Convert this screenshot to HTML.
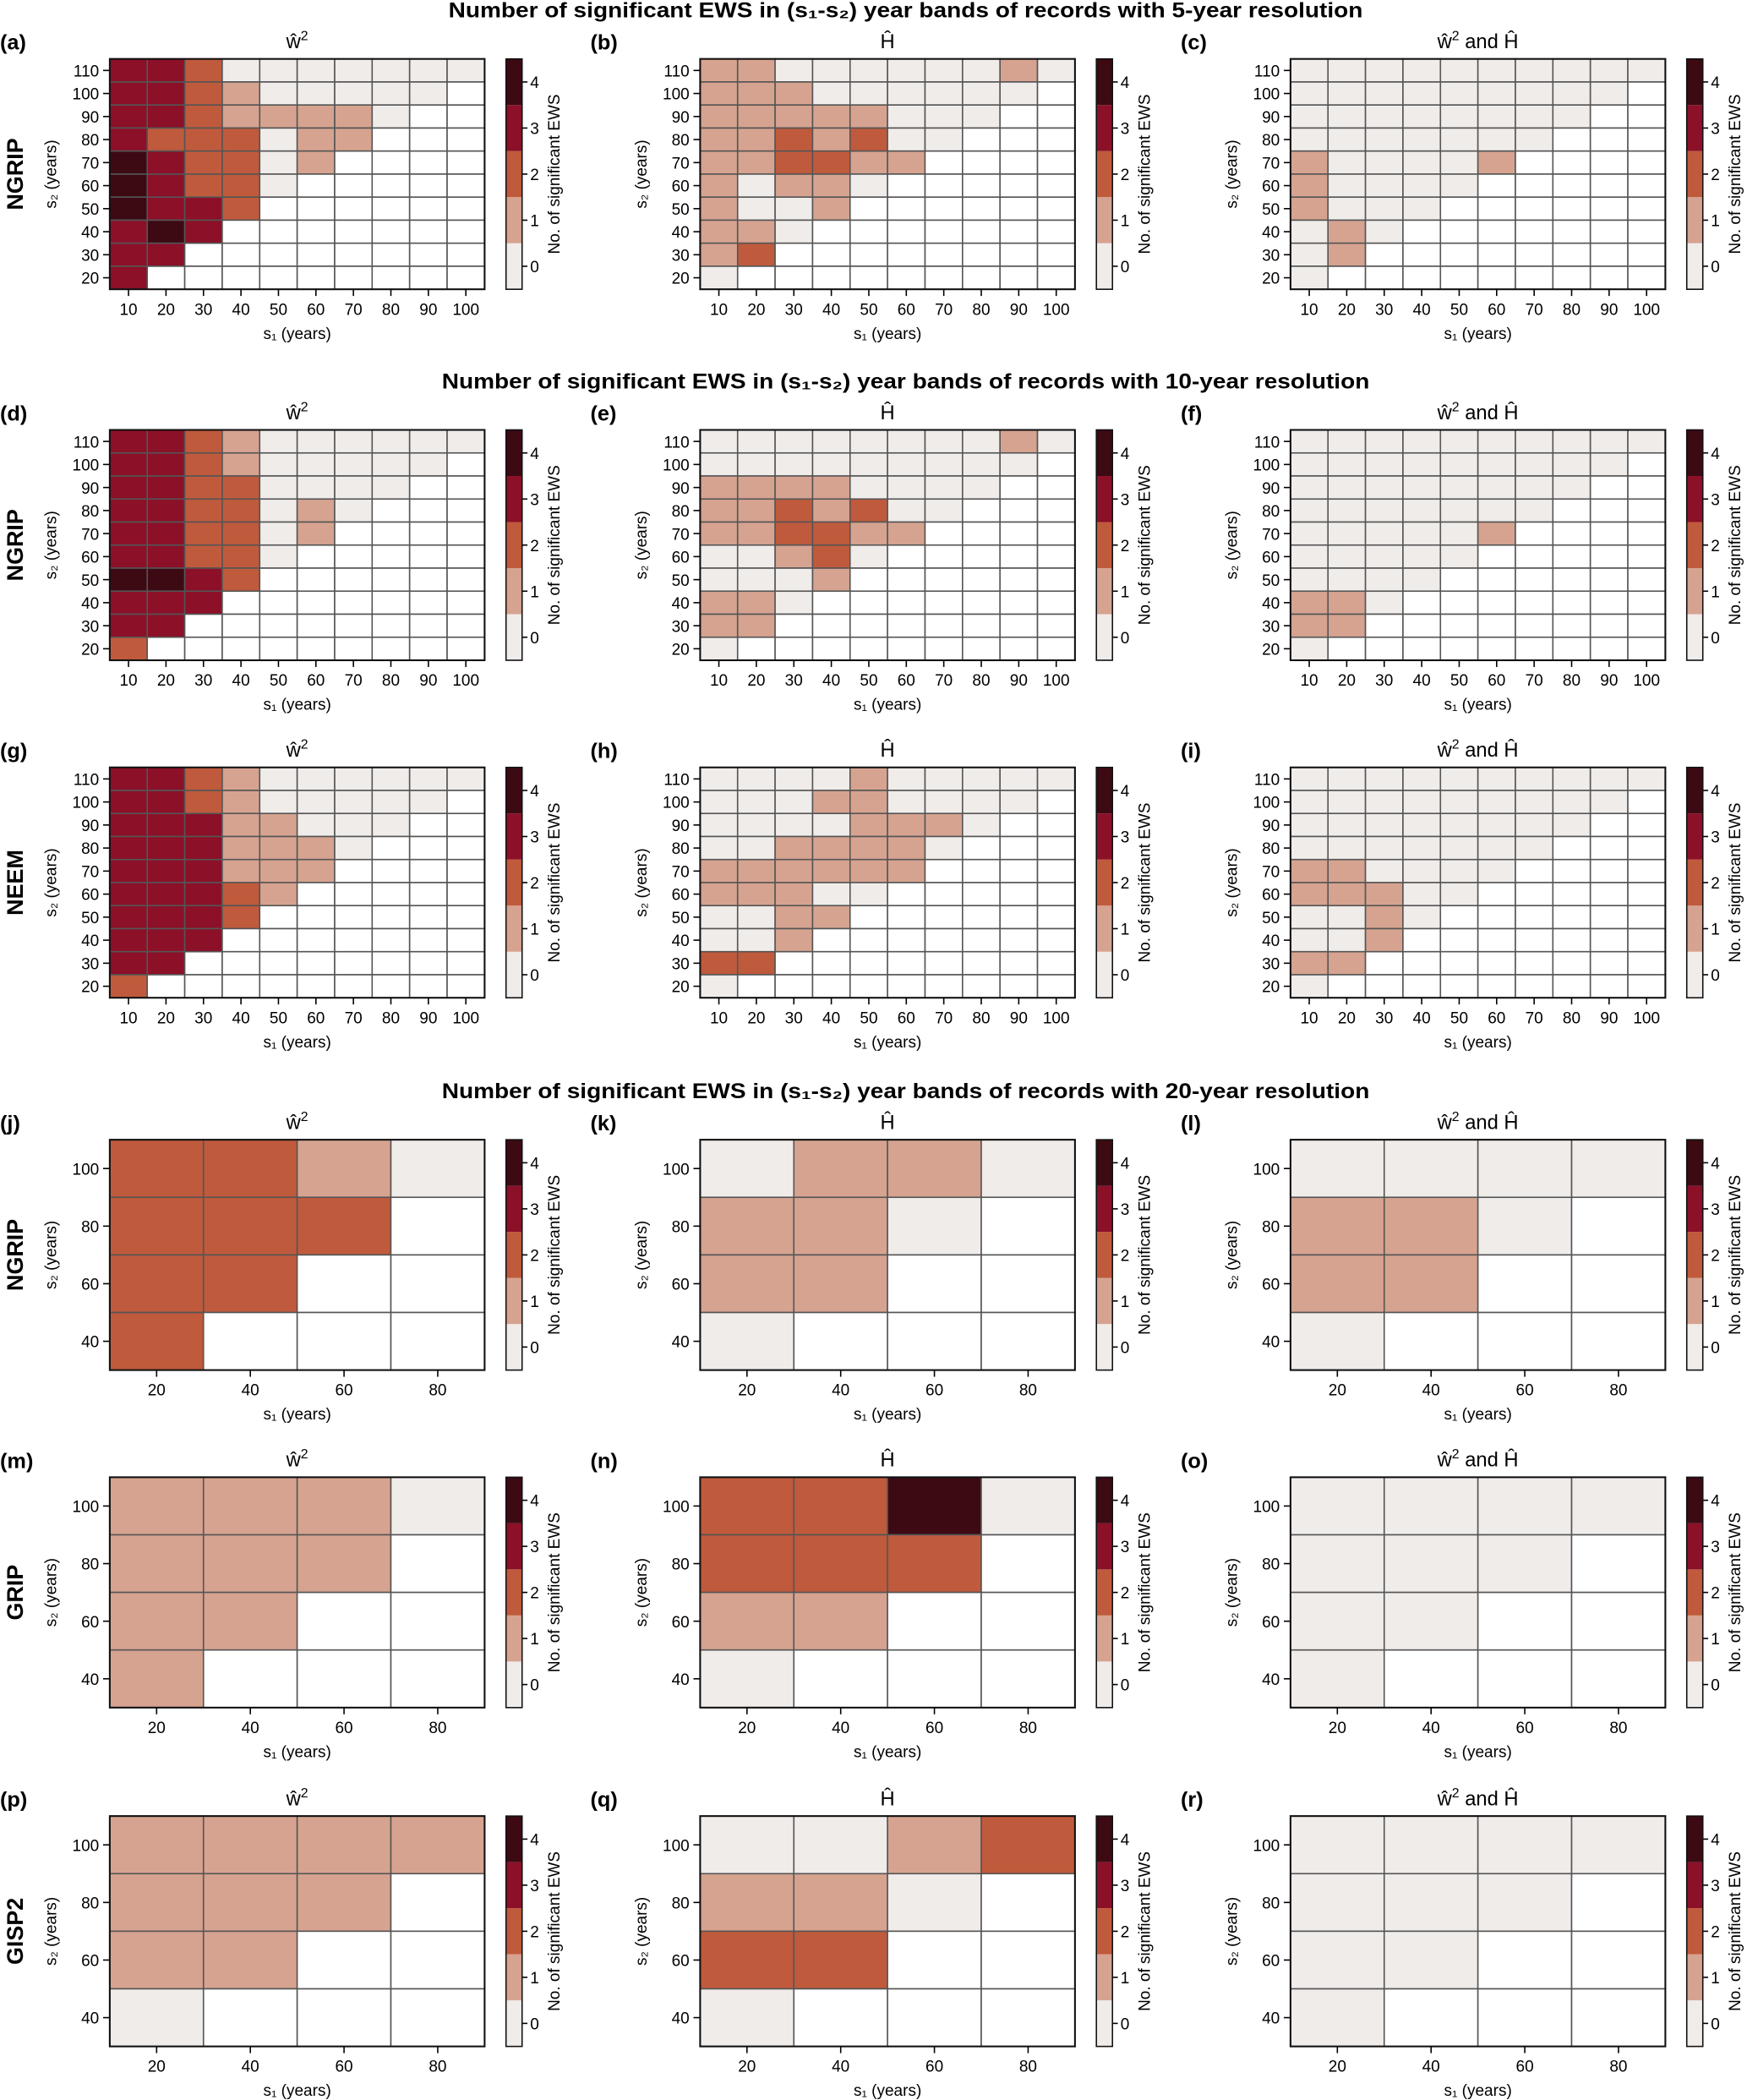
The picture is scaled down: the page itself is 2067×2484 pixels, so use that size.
<!DOCTYPE html>
<html><head><meta charset="utf-8"><style>
html,body{margin:0;padding:0;background:#fff}
svg{display:block}
text{font-family:"Liberation Sans",sans-serif;fill:#000}
</style></head><body>
<svg id="fig" xmlns="http://www.w3.org/2000/svg" width="2067" height="2484" viewBox="0 0 1305 1568" preserveAspectRatio="none"></svg>
<script>
// ---- data (rows listed top to bottom: largest s2 first; -1 = no value) ----
const s1Fine = [10,20,30,40,50,60,70,80,90,100];
const s2Fine = [110,100,90,80,70,60,50,40,30,20];
const s1Coarse = [20,40,60,80];
const s2Coarse = [100,80,60,40];
const cbTicks = [0,1,2,3,4];
const colors = ['#f0ecea','#d6a390','#c05a3c','#8b1028','#3d0a14'];

const valsA = [[3,3,2,0,0,0,0,0,0,0],[3,3,2,1,0,0,0,0,0],[3,3,2,1,1,1,1,0],[3,2,2,2,0,1,1],[4,3,2,2,0,1],[4,3,2,2,0],[4,3,3,2],[3,4,3],[3,3],[3]];
const valsB = [[1,1,0,0,0,0,0,0,1,0],[1,1,1,0,0,0,0,0,0],[1,1,1,1,1,0,0,0],[1,1,2,1,2,0,0],[1,1,2,2,1,1],[1,0,1,1,0],[1,0,0,1],[1,1,0],[1,2],[0]];
const valsC = [[0,0,0,0,0,0,0,0,0,0],[0,0,0,0,0,0,0,0,0],[0,0,0,0,0,0,0,0],[0,0,0,0,0,0,0],[1,0,0,0,0,1],[1,0,0,0,0],[1,0,0,0],[0,1,0],[0,1],[0]];
const valsD = [[3,3,2,1,0,0,0,0,0,0],[3,3,2,1,0,0,0,0,0],[3,3,2,2,0,0,0,0],[3,3,2,2,0,1,0],[3,3,2,2,0,1],[3,3,2,2,0],[4,4,3,2],[3,3,3],[3,3],[2]];
const valsE = [[0,0,0,0,0,0,0,0,1,0],[0,0,0,0,0,0,0,0,0],[1,1,1,1,0,0,0,0],[1,1,2,1,2,0,0],[1,1,2,2,1,1],[0,0,1,2,0],[0,0,0,1],[1,1,0],[1,1],[0]];
const valsF = [[0,0,0,0,0,0,0,0,0,0],[0,0,0,0,0,0,0,0,0],[0,0,0,0,0,0,0,0],[0,0,0,0,0,0,0],[0,0,0,0,0,1],[0,0,0,0,0],[0,0,0,0],[1,1,0],[1,1],[0]];
const valsG = [[3,3,2,1,0,0,0,0,0,0],[3,3,2,1,0,0,0,0,0],[3,3,3,1,1,0,0,0],[3,3,3,1,1,1,0],[3,3,3,1,1,1],[3,3,3,2,1],[3,3,3,2],[3,3,3],[3,3],[2]];
const valsH = [[0,0,0,0,1,0,0,0,0,0],[0,0,0,1,1,0,0,0,0],[0,0,0,0,1,1,1,0],[0,0,1,1,1,1,0],[1,1,1,1,1,1],[1,1,1,0,0],[0,0,1,1],[0,0,1],[2,2],[0]];
const valsI = [[0,0,0,0,0,0,0,0,0,0],[0,0,0,0,0,0,0,0,0],[0,0,0,0,0,0,0,0],[0,0,0,0,0,0,0],[1,1,0,0,0,0],[1,1,1,0,0],[0,0,1,0],[0,0,1],[1,1],[0]];
const valsJ = [[2,2,1,0],[2,2,2],[2,2],[2]];
const valsK = [[0,1,1,0],[1,1,0],[1,1],[0]];
const valsL = [[0,0,0,0],[1,1,0],[1,1],[0]];
const valsM = [[1,1,1,0],[1,1,1],[1,1],[1]];
const valsN = [[2,2,4,0],[2,2,2],[1,1],[0]];
const valsO = [[0,0,0,0],[0,0,0],[0,0],[0]];
const valsP = [[1,1,1,1],[1,1,1],[1,1],[0]];
const valsQ = [[0,0,1,2],[1,1,0],[2,2],[0]];
const valsR = [[0,0,0,0],[0,0,0],[0,0],[0]];

const sectionTitles = [
 {t:'Number of significant EWS in (s\u2081-s\u2082) year bands of records with 5-year resolution', y:13, x:335, w:683},
 {t:'Number of significant EWS in (s\u2081-s\u2082) year bands of records with 10-year resolution', y:290, x:330, w:693},
 {t:'Number of significant EWS in (s\u2081-s\u2082) year bands of records with 20-year resolution', y:820, x:330, w:693}
];
const rowDefs = [
 {y0:44, fine:true, rec:'NGRIP', ids:['a','b','c'], vals:[valsA,valsB,valsC]},
 {y0:321, fine:true, rec:'NGRIP', ids:['d','e','f'], vals:[valsD,valsE,valsF]},
 {y0:573, fine:true, rec:'NEEM', ids:['g','h','i'], vals:[valsG,valsH,valsI]},
 {y0:851, fine:false, rec:'NGRIP', ids:['j','k','l'], vals:[valsJ,valsK,valsL]},
 {y0:1103, fine:false, rec:'GRIP', ids:['m','n','o'], vals:[valsM,valsN,valsO]},
 {y0:1356, fine:false, rec:'GISP2', ids:['p','q','r'], vals:[valsP,valsQ,valsR]}
];
const colX = [82,523,964];
const PW = 280, PH = 172;

const NS = 'http://www.w3.org/2000/svg';
const svg = document.getElementById('fig');
function mk(tag, attrs, parent){
  const e = document.createElementNS(NS, tag);
  for (const k in attrs) e.setAttribute(k, attrs[k]);
  (parent||svg).appendChild(e);
  return e;
}
function txt(s, attrs, parent){ const e = mk('text', attrs, parent); e.textContent = s; return e; }

sectionTitles.forEach((st,i)=>{
  const e = txt(st.t, {x:st.x, y:st.y, 'font-size':16, 'font-weight':'bold', textLength:st.w, lengthAdjust:'spacingAndGlyphs'});
  
  
});

function titleText(g, col, cx, y){
  const t = mk('text', {x:cx, y:y, 'font-size':15, 'text-anchor':'middle'}, g);
  
  
  if (col === 0){
    t.appendChild(document.createTextNode('w\u0302'));
    const s = mk('tspan', {dy:-6, 'font-size':10}, t); s.textContent = '2';
  } else if (col === 1){
    t.textContent = 'H\u0302';
  } else {
    t.appendChild(document.createTextNode('w\u0302'));
    const s = mk('tspan', {dy:-6, 'font-size':10}, t); s.textContent = '2';
    const s2 = mk('tspan', {dy:6}, t); s2.textContent = ' and H\u0302';
  }
}

rowDefs.forEach((row)=>{
  const xs = row.fine ? s1Fine : s1Coarse;
  const ys = row.fine ? s2Fine : s2Coarse;
  const nC = xs.length, nR = ys.length;
  const cw = PW / nC, ch = PH / nR;
  const y0 = row.y0;
  row.ids.forEach((id, c)=>{
    const x0 = colX[c];
    const g = mk('g', {});
    
    
    const xScale = i => x0 + i*cw;
    const yScale = r => y0 + r*ch;
    const lab = txt('(' + id + ')', {x:x0-82, y:y0-7, 'font-size':16, 'font-weight':'bold'}, g);
    
    
    titleText(g, c, x0 + PW/2, y0 - 8);
    const vals = row.vals[c];
    for (let r=0; r<nR; r++){
      for (let i=0; i<nC; i++){
        const v = (vals[r] && vals[r][i] !== undefined) ? vals[r][i] : -1;
        const cell = mk('rect', {x:xScale(i), y:yScale(r), width:cw, height:ch,
          fill: v < 0 ? '#ffffff' : colors[v], stroke:'#555', 'stroke-width':1}, g);
        
        
      }
    }
    const frame = mk('rect', {x:x0, y:y0, width:PW, height:PH, fill:'none', stroke:'#111', 'stroke-width':1.3}, g);
    
    
    xs.forEach((v,i)=>{
      const cx = xScale(i) + cw/2;
      mk('line', {x1:cx, x2:cx, y1:y0+PH, y2:y0+PH+5, stroke:'#000', 'stroke-width':1}, g);
      const t = txt(String(v), {x:cx, y:y0+PH+19, 'font-size':12, 'text-anchor':'middle'}, g);
      
      
    });
    ys.forEach((v,r)=>{
      const cy = yScale(r) + ch/2;
      mk('line', {x1:x0-5, x2:x0, y1:cy, y2:cy, stroke:'#000', 'stroke-width':1}, g);
      const t = txt(String(v), {x:x0-8, y:cy+4.5, 'font-size':12, 'text-anchor':'end'}, g);
      
      
    });
    const xl = txt('s\u2081 (years)', {x:x0+PW/2, y:y0+PH+37, 'font-size':12, 'text-anchor':'middle'}, g);
    
    
    const ylx = x0 - 40, yly = y0 + PH/2;
    const yl = txt('s\u2082 (years)', {x:ylx, y:yly, 'font-size':12, 'text-anchor':'middle', transform:'rotate(-90 '+ylx+' '+yly+')'}, g);
    
    
    if (c === 0){
      const rx = 17, ry = y0 + PH/2;
      const rl = txt(row.rec, {x:rx, y:ry, 'font-size':17, 'font-weight':'bold', 'text-anchor':'middle', transform:'rotate(-90 '+rx+' '+ry+')'}, g);
      
      
    }
    const cbx = x0 + 296, cbw = 12, segH = PH / cbTicks.length;
    const cb = mk('g', {}, g);
    
    
    cbTicks.forEach((v,k)=>{
      const sy = y0 + PH - (k+1)*segH;
      mk('rect', {x:cbx, y:sy, width:cbw, height:segH, fill:colors[v]}, cb);
      const cy = sy + segH/2;
      mk('line', {x1:cbx+cbw, x2:cbx+cbw+4, y1:cy, y2:cy, stroke:'#000', 'stroke-width':1}, cb);
      const t = txt(String(v), {x:cbx+cbw+6, y:cy+4.5, 'font-size':12}, cb);
      
      
    });
    mk('rect', {x:cbx, y:y0, width:cbw, height:PH, fill:'none', stroke:'#111', 'stroke-width':1}, cb);
    const clx = cbx + 40, cly = y0 + PH/2;
    const cl = txt('No. of significant EWS', {x:clx, y:cly, 'font-size':12, 'text-anchor':'middle', transform:'rotate(-90 '+clx+' '+cly+')'}, cb);
    
    
  });
});
</script>
</body></html>
